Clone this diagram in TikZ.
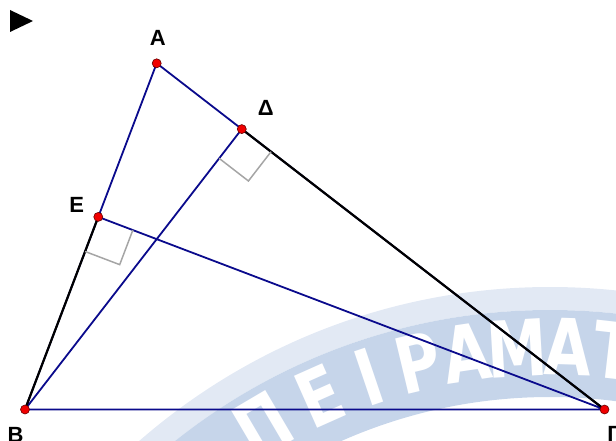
\documentclass[tikz,border=0pt]{standalone}
\usepackage{fontspec}
\setmainfont{Liberation Sans}
\newfontfamily\wmfont{DejaVu Sans}
\usetikzlibrary{calc}
\definecolor{navy}{RGB}{10,10,140}
\definecolor{wmblue}{RGB}{198,213,234}
\definecolor{wmlight}{RGB}{226,233,244}
\definecolor{markgray}{RGB}{165,165,165}
\definecolor{ptred}{RGB}{240,0,0}
\begin{document}
\begin{tikzpicture}[x=1pt,y=-1pt,
  seg/.style={draw=navy,line width=1.8pt},
  blk/.style={draw=black,line width=2.2pt},
  rmark/.style={draw=markgray,line width=1.5pt},
  pt/.style={circle,fill=ptred,draw=black!60!red,line width=0.6pt,inner sep=0pt,minimum size=9pt},
  lbl/.style={font=\fontsize{22}{22}\selectfont\bfseries,inner sep=0pt,anchor=base},
  wm/.style={font=\wmfont\fontsize{78}{78}\selectfont\bfseries,text=white,inner sep=0pt,xscale=0.78}]
\useasboundingbox (0,0) rectangle (616,441);
% watermark
\begin{scope}
  \clip (0,0) rectangle (616,441);
  \fill[wmlight,even odd rule] (550,912) circle[radius=625] (550,912) circle[radius=602];
  \fill[wmblue,even odd rule] (550,912) circle[radius=602] (550,912) circle[radius=515];
  \foreach \l/\a [count=\i] in {Π/120.5, Ε/114, Ι/108.7, Ρ/103.5, Α/98.5, Μ/93.3, Α/88.2, Τ/83.5}
    \node[rotate=\a-90,wm] (w\i) at ({550+565*cos(\a)},{912-565*sin(\a)}) {\l};
\end{scope}
% pointer
\fill[black] (10,10) -- (10,32) -- (33,21) -- cycle;
% points
\coordinate (A) at (156.7,63.3);
\coordinate (B) at (25,409.5);
\coordinate (G) at (604.5,409.5);
\coordinate (D) at ($(A)!(B)!(G)$);
\coordinate (E) at ($(A)!(G)!(B)$);
% segments
\draw[seg] (A) -- (B) (A) -- (G) (B) -- (G) (B) -- (D) (G) -- (E);
\draw[blk] (B) -- (E) (D) -- (G);
% right angle marks
\coordinate (d1) at ($(D)!37pt!(G)$);
\coordinate (d2) at ($(D)!37pt!(B)$);
\coordinate (dc) at ($(d1)+(d2)-(D)$);
\draw[rmark] (d1) -- (dc) -- (d2);
\coordinate (e1) at ($(E)!37pt!(G)$);
\coordinate (e2) at ($(E)!37pt!(B)$);
\coordinate (ec) at ($(e1)+(e2)-(E)$);
\draw[rmark] (e1) -- (ec) -- (e2);
% dots
\node[pt] (pA) at (A) {};
\node[pt] (pB) at (B) {};
\node[pt] (pG) at (G) {};
\node[pt] (pD) at (D) {};
\node[pt] (pE) at (E) {};
% labels
\node[lbl] (lA) at (157.7,46) {Α};
\node[lbl] (lD) at (265.7,116) {Δ};
\node[lbl] (lE) at (76.7,212) {Ε};
\node[lbl] (lB) at (15.5,442.5) {Β};
\node[lbl] (lG) at (614,441) {Γ};
\end{tikzpicture}
\end{document}
